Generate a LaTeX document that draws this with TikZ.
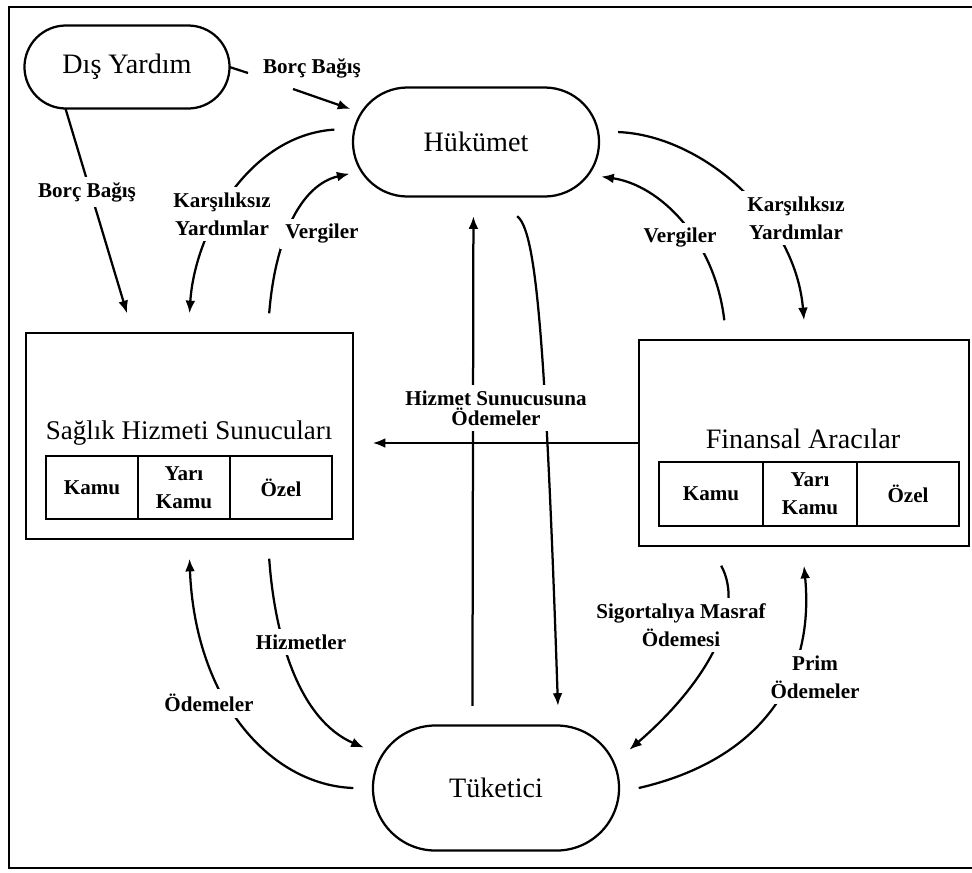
\documentclass[tikz,border=0pt]{standalone}
\usepackage{fontspec}
\setmainfont{Liberation Serif}
\usetikzlibrary{arrows.meta,shapes.misc}

\begin{document}
\begin{tikzpicture}[x=0.0125cm, y=-0.0125cm, line width=0.8pt,
  oval/.style={rounded rectangle, draw, inner sep=0pt, outer sep=7pt, font=\fontsize{10}{12}\selectfont},
  kutu/.style={draw, inner sep=0pt, outer sep=7pt},
  hucre/.style={draw, inner sep=0pt, align=center, font=\fontsize{7.5}{10}\selectfont\bfseries},
  etiket/.style={fill=white, inner sep=2pt, align=center, font=\fontsize{7.5}{10}\selectfont\bfseries},
  ok/.style={-{Latex[length=4.5pt,width=3.5pt]}}]

\useasboundingbox (0,0) rectangle (972,872);
\draw[line width=1pt] (972,7) -- (9,7) -- (9,868) -- (972,868);

% ana dugumler
\node[oval, outer sep=0pt, minimum width=2.5625cm, minimum height=1.0375cm] (dis) at (127,67) {Dış Yardım};
\node[oval, minimum width=3.075cm, minimum height=1.3625cm] (huk) at (476,142) {Hükümet};
\node[oval, minimum width=3.075cm, minimum height=1.5625cm] (tuk) at (496,788) {Tüketici};

\node[kutu, minimum width=4.0875cm, minimum height=2.575cm] (sag) at (189.5,436) {};
\node[font=\fontsize{9.6}{12}\selectfont] (sagbaslik) at (189,433) {Sağlık Hizmeti Sunucuları};
\node[hucre, minimum width=1.15cm, minimum height=0.79cm] (sk1) at (92,487.5) {Kamu};
\node[hucre, minimum width=1.15cm, minimum height=0.79cm] (sk2) at (184,487.5) {Yarı\\Kamu};
\node[hucre, minimum width=1.275cm, minimum height=0.79cm] (sk3) at (281,487.5) {Özel};

\node[kutu, minimum width=4.125cm, minimum height=2.575cm] (fin) at (804,443) {};
\node[font=\fontsize{10}{12}\selectfont] (finbaslik) at (803,439) {Finansal Aracılar};
\node[hucre, minimum width=1.3cm, minimum height=0.8cm] (fk1) at (711,494) {Kamu};
\node[hucre, minimum width=1.175cm, minimum height=0.8cm] (fk2) at (810,494) {Yarı\\Kamu};
\node[hucre, minimum width=1.275cm, minimum height=0.8cm] (fk3) at (908,494) {Özel};

% baglantilar
\coordinate (b1) at (248,73);
\coordinate (b2) at (293,89);
\draw (dis.east) -- (b1);
\draw[ok, shorten >=-3pt] (b2) -- (huk.165);
\draw[ok] (dis.214) -- (sag.117);

\draw[ok] (huk.175) .. controls (250,135) and (195,230) .. (sag.north);
\draw[ok, shorten >=-3pt] (sag.57) .. controls (275,240) and (300,185) .. (huk.194);
\draw[ok] (huk.4) .. controls (700,135) and (795,215) .. (fin.north);
\draw[ok, shorten >=-3pt] (fin.123) .. controls (715,240) and (660,185) .. (huk.345);

\draw[ok] (tuk.106) -- (huk.268);
\draw[ok] (huk.299) .. controls (535,230) and (545,320) .. (tuk.53);
\draw[ok, shorten <=-7pt] (fin.west) -- (sag.east |- fin.west);

\draw[ok] (tuk.west) .. controls (270,785) and (195,700) .. (sag.south);
\draw[ok] (sag.303) .. controls (275,640) and (300,720) .. (tuk.163);
\draw[ok] (fin.236) .. controls (745,610) and (710,680) .. (tuk.16);
\draw[ok] (tuk.east) .. controls (760,760) and (815,680) .. (fin.south);

% etiketler
\node[etiket] (borc1) at (312,68) {Borç Bağış};
\node[etiket] (borc2) at (87,192) {Borç Bağış};
\node[etiket] (karsL) at (222,214) {Karşılıksız\\Yardımlar};
\node[etiket] (vergL) at (322,234) {Vergiler};
\node[etiket] (karsR) at (796,218) {Karşılıksız\\Yardımlar};
\node[etiket] (vergR) at (680,238) {Vergiler};
\node[etiket] (hso) at (496,408) {Hizmet Sunucusuna\\[-3pt]Ödemeler};
\node[etiket] (odeL) at (209,703) {Ödemeler};
\node[etiket] (hizm) at (301,642) {Hizmetler};
\node[etiket] (sigo) at (681,625) {Sigortalıya Masraf\\Ödemesi};
\node[etiket] (prim) at (815,677) {Prim\\Ödemeler};
\end{tikzpicture}
\end{document}
